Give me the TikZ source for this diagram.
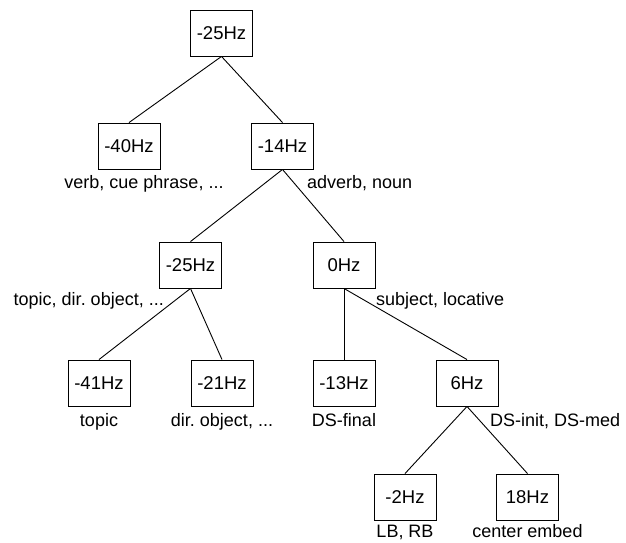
\documentclass[tikz,border=0pt]{standalone}
\usepackage{fontspec}
\setmainfont{Liberation Sans}
\begin{document}
\frenchspacing
\begin{tikzpicture}[x=1pt,y=-1pt,
  hz/.style={draw, line width=0.9pt, minimum width=62pt, minimum height=46pt, inner sep=0pt, font=\fontsize{18.5}{20}\selectfont},
  lab/.style={inner sep=0pt, font=\fontsize{18}{20}\selectfont},
  edge/.style={line width=0.9pt}]
\useasboundingbox (0,0) rectangle (626,542);
% boxes
\node[hz] (root) at (221.5,33) {-25Hz};
\node[hz] (n40) at (129,146) {-40Hz};
\node[hz] (n14) at (282.5,146) {-14Hz};
\node[hz] (n25) at (190.5,265) {-25Hz};
\node[hz] (n0) at (344,265) {0Hz};
\node[hz] (n41) at (99,383) {-41Hz};
\node[hz] (n21) at (222,383) {-21Hz};
\node[hz] (n13) at (344,383) {-13Hz};
\node[hz] (n6) at (467,383) {6Hz};
\node[hz] (n2) at (405,497) {-2Hz};
\node[hz] (n18) at (527.5,497) {18Hz};
% connectors
\draw[edge] (root.south) -- (n40.north);
\draw[edge] (root.south) -- (n14.north);
\draw[edge] (n14.south) -- (n25.north);
\draw[edge] (n14.south) -- (n0.north);
\draw[edge] (n25.south) -- (n41.north);
\draw[edge] (n25.south) -- (n21.north);
\draw[edge] (n0.south) -- (n13.north);
\draw[edge] (n0.south) -- (n6.north);
\draw[edge] (n6.south) -- (n2.north);
\draw[edge] (n6.south) -- (n18.north);
% labels
\node[lab, anchor=base] (l40) at (144,188) {verb, cue phrase, ...};
\node[lab, anchor=base west] (l14) at (307,188) {adverb, noun};
\node[lab, anchor=base east] (l25) at (164,305) {topic, dir. object, ...};
\node[lab, anchor=base west] (l0) at (376,305) {subject, locative};
\node[lab, anchor=base] (l41) at (99,426) {topic};
\node[lab, anchor=base] (l21) at (222,426) {dir. object, ...};
\node[lab, anchor=base] (l13) at (344,426) {DS-final};
\node[lab, anchor=base west] (l6) at (490,426) {DS-init, DS-med};
\node[lab, anchor=base] (l2) at (405,537) {LB, RB};
\node[lab, anchor=base] (l18) at (527.5,537) {center embed};
\end{tikzpicture}
\end{document}
